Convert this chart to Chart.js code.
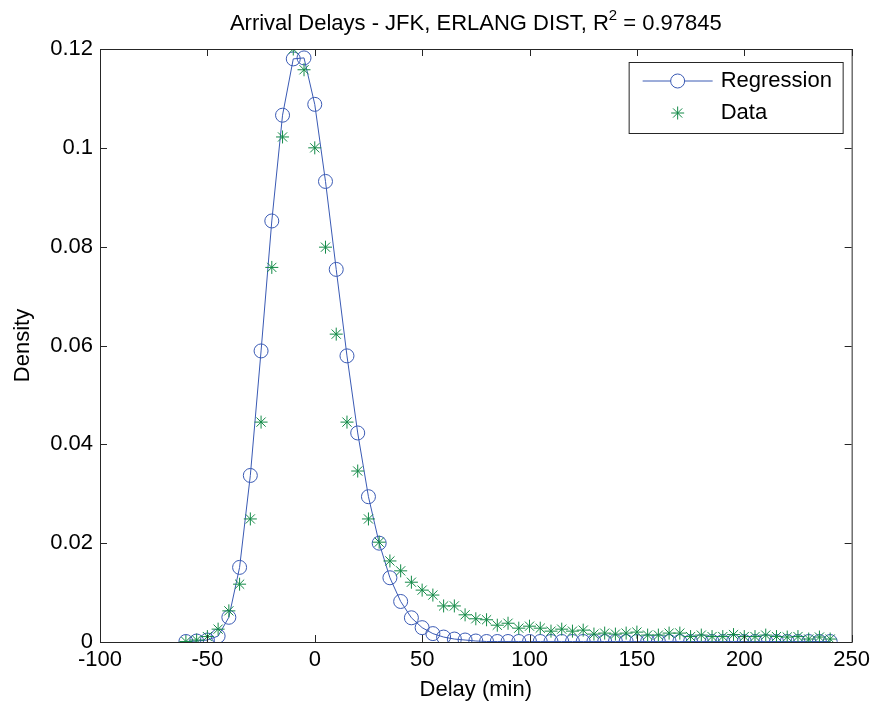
<!DOCTYPE html>
<html>
<head>
<meta charset="utf-8">
<script src="https://cdn.jsdelivr.net/npm/chart.js@4"></script>
<style>
  body { margin: 0; background: #fff; }
  canvas { display: block; }
</style>
</head>
<body>
<canvas id="delays" width="875" height="706"></canvas>
<script>
// delay bins (min), every 5 minutes
const delays = [];
for (let d = -60; d <= 240; d += 5) delays.push(d);

// fitted erlang density
const regression = [
  0.0001, 0.0002, 0.0004, 0.0012, 0.0050, 0.0151, 0.0337, 0.0589, 0.0852, 0.1066,
  0.1180, 0.1182, 0.1088, 0.0932, 0.0754, 0.0579, 0.0423, 0.0294, 0.0200, 0.0130,
  0.0082, 0.0049, 0.0029, 0.0017, 0.0010, 0.0006, 0.0004, 0.0002, 0.0001, 0.0001,
  0.0001, 0.0001, 0.0001, 0.0001, 0.0001, 0.0001, 0.0001, 0.0001, 0.0001, 0.0001,
  0.0001, 0.0001, 0.0001, 0.0001, 0.0001, 0.0001, 0.0001, 0.0001, 0.0001, 0.0001,
  0.0001, 0.0001, 0.0001, 0.0001, 0.0001, 0.0001, 0.0001, 0.0001, 0.0001, 0.0001,
  0.0001
];

// observed density
const observed = [
  0.0001, 0.0004, 0.0011, 0.0026, 0.0063, 0.0117, 0.0249, 0.0445, 0.0758, 0.1022,
  0.1200, 0.1158, 0.1000, 0.0799, 0.0623, 0.0445, 0.0346, 0.0249, 0.0202, 0.0164,
  0.0144, 0.0121, 0.0105, 0.0095, 0.0073, 0.0073, 0.0055, 0.0047, 0.0045, 0.0034,
  0.0038, 0.0028, 0.0032, 0.0028, 0.0022, 0.0026, 0.0022, 0.0024, 0.0016, 0.0018,
  0.0016, 0.0018, 0.0020, 0.0014, 0.0014, 0.0018, 0.0018, 0.0011, 0.0014, 0.0011,
  0.0011, 0.0015, 0.0011, 0.0011, 0.0014, 0.0011, 0.0010, 0.0011, 0.0006, 0.0010,
  0.0006
];

const xTicks = [-100, -50, 0, 50, 100, 150, 200, 250];
const yTicks = [0, 0.02, 0.04, 0.06, 0.08, 0.1, 0.12];

const BLUE = '#3a5ab4';
const GREEN = '#138a47';
const FONT = '"Liberation Sans", Arial, sans-serif';
const FS = 22;

const toPoints = ys => delays.map((d, i) => ({ x: d, y: ys[i] }));

// matlab-ish frame: box, inward ticks on all four sides, title, legend
const matlabFrame = {
  id: 'matlabFrame',
  afterDraw(chart) {
    const { ctx, chartArea: a, scales: { x, y } } = chart;
    ctx.save();
    ctx.strokeStyle = '#262626';
    ctx.lineWidth = 1;
    ctx.strokeRect(a.left + 0.5, a.top + 0.5, a.right - a.left, a.bottom - a.top);
    const len = 7;
    ctx.beginPath();
    xTicks.forEach(v => {
      const px = Math.round(x.getPixelForValue(v)) + 0.5;
      ctx.moveTo(px, a.bottom); ctx.lineTo(px, a.bottom - len);
      ctx.moveTo(px, a.top); ctx.lineTo(px, a.top + len);
    });
    yTicks.forEach(v => {
      const py = Math.round(y.getPixelForValue(v)) + 0.5;
      ctx.moveTo(a.left, py); ctx.lineTo(a.left + len, py);
      ctx.moveTo(a.right, py); ctx.lineTo(a.right - len, py);
    });
    ctx.stroke();

    // title with superscript
    ctx.fillStyle = '#000';
    ctx.textBaseline = 'alphabetic';
    const part1 = 'Arrival Delays - JFK, ERLANG DIST, R';
    const sup = '2';
    const part2 = ' = 0.97845';
    ctx.font = FS + 'px ' + FONT;
    const w1 = ctx.measureText(part1).width;
    const w3 = ctx.measureText(part2).width;
    ctx.font = '15px ' + FONT;
    const w2 = ctx.measureText(sup).width;
    let tx = (a.left + a.right) / 2 - (w1 + w2 + w3) / 2;
    const ty = 30;
    ctx.textAlign = 'left';
    ctx.font = FS + 'px ' + FONT;
    ctx.fillText(part1, tx, ty); tx += w1;
    ctx.font = '15px ' + FONT;
    ctx.fillText(sup, tx, ty - 10); tx += w2;
    ctx.font = FS + 'px ' + FONT;
    ctx.fillText(part2, tx, ty);

    // legend
    const bx = a.right - 223, by = a.top + 13, bw = 214, bh = 71;
    ctx.fillStyle = '#fff';
    ctx.fillRect(bx, by, bw, bh);
    ctx.strokeStyle = '#262626';
    ctx.strokeRect(bx + 0.5, by + 0.5, bw, bh);
    const r1 = by + 19, r2 = by + 51;
    ctx.strokeStyle = BLUE;
    ctx.beginPath();
    ctx.moveTo(bx + 14, r1); ctx.lineTo(bx + 84, r1);
    ctx.stroke();
    ctx.fillStyle = '#fff';
    Chart.helpers.drawPoint(ctx, { pointStyle: 'circle', radius: 7, borderWidth: 1 }, bx + 49, r1);
    ctx.strokeStyle = GREEN;
    Chart.helpers.drawPoint(ctx, { pointStyle: 'star', radius: 6.5, borderWidth: 1 }, bx + 49, r2);
    ctx.fillStyle = '#000';
    ctx.font = FS + 'px ' + FONT;
    ctx.textBaseline = 'middle';
    ctx.fillText('Regression', bx + 92, r1);
    ctx.fillText('Data', bx + 92, r2);
    ctx.restore();
  }
};

new Chart(document.getElementById('delays'), {
  type: 'scatter',
  data: {
    datasets: [
      {
        label: 'Regression',
        data: toPoints(regression),
        showLine: true,
        borderColor: BLUE,
        borderWidth: 1,
        pointStyle: 'circle',
        pointRadius: 7,
        pointBorderWidth: 1,
        pointBorderColor: BLUE,
        pointBackgroundColor: 'rgba(0,0,0,0)',
        order: 2
      },
      {
        label: 'Data',
        data: toPoints(observed),
        showLine: false,
        pointStyle: 'star',
        pointRadius: 6.5,
        pointBorderWidth: 1,
        pointBorderColor: GREEN,
        pointBackgroundColor: GREEN,
        order: 1
      }
    ]
  },
  options: {
    responsive: false,
    animation: false,
    layout: { padding: { left: 0, right: 23, top: 49, bottom: 0 } },
    plugins: {
      legend: { display: false },
      tooltip: { enabled: false }
    },
    scales: {
      x: {
        type: 'linear',
        min: -100,
        max: 250,
        afterFit: s => { s.height = 64; },
        afterBuildTicks: s => { s.ticks = xTicks.map(v => ({ value: v })); },
        grid: { display: false, drawTicks: false },
        border: { display: false },
        ticks: { color: '#000', font: { family: FONT, size: FS }, padding: 5, maxRotation: 0, callback: v => String(v) },
        title: { display: true, text: 'Delay (min)', color: '#000', font: { family: FONT, size: FS }, padding: { top: 0, bottom: 3 } }
      },
      y: {
        type: 'linear',
        min: 0,
        max: 0.12,
        afterFit: s => { s.width = 100; },
        afterBuildTicks: s => { s.ticks = yTicks.map(v => ({ value: v })); },
        grid: { display: false, drawTicks: false },
        border: { display: false },
        ticks: { color: '#000', font: { family: FONT, size: FS }, padding: 7, callback: v => String(v) },
        title: { display: true, text: 'Density', color: '#000', font: { family: FONT, size: FS }, padding: { top: 10, bottom: 0 } }
      }
    }
  },
  plugins: [matlabFrame]
});
</script>
</body>
</html>
